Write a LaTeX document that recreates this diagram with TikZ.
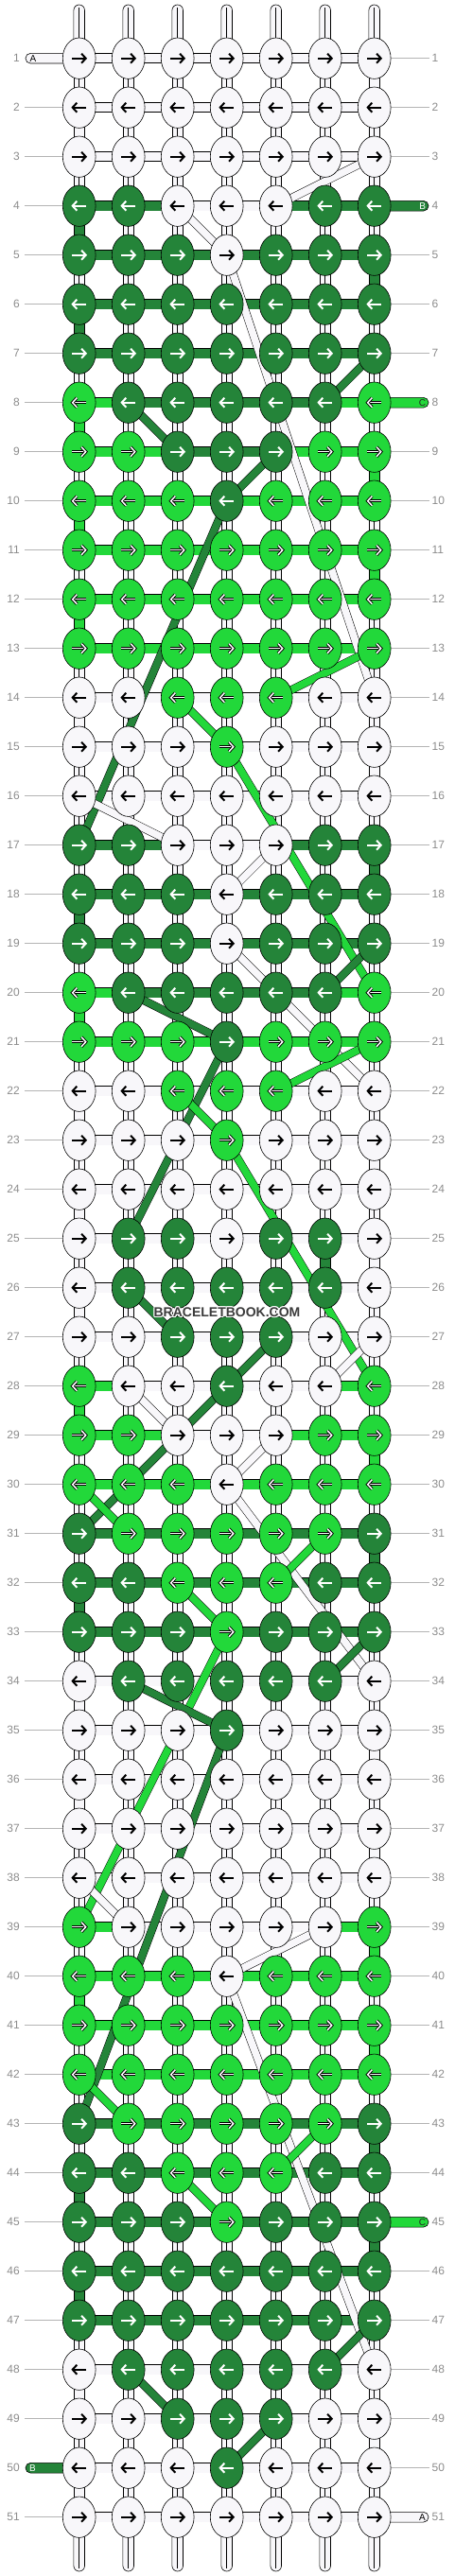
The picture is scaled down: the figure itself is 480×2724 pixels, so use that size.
\documentclass[tikz,border=0pt]{standalone}
\usepackage{fontspec}
\setmainfont{Liberation Sans}
\usetikzlibrary{shapes.geometric,calc}
\definecolor{cW}{HTML}{F8F7FA}
\definecolor{cD}{HTML}{248439}
\definecolor{cL}{HTML}{22D83A}
\definecolor{cGl}{HTML}{B4B4B4}
\definecolor{cGt}{HTML}{8C8C8C}
\definecolor{cMark}{HTML}{3C3C3C}
\colorlet{col-w}{cW}\colorlet{col-d}{cD}\colorlet{col-l}{cL}
\pgfdeclarelayer{vlay}\pgfdeclarelayer{hlay}\pgfdeclarelayer{dlay}\pgfdeclarelayer{toplay}
\pgfsetlayers{vlay,hlay,dlay,main,toplay}
\begin{document}
\begin{tikzpicture}[x=1pt,y=-1pt,
 knot/.style={ellipse,draw=black,line width=.6pt,minimum width=34.8pt,minimum height=43.4pt,inner sep=0pt},
 arrst-w/.style={draw=black,line width=2pt},
 arrst-d/.style={draw=white,line width=2pt},
 arrst-l/.style={draw=white,line width=1.5pt,preaction={draw=black,line width=3.3pt}},
 hseg/.style={draw=black,line width=.6pt,double distance=9.6pt},
 vseg/.style={draw=black,line width=.6pt,double distance=10.4pt},
 dseg/.style={draw=black,line width=.5pt,double distance=7.6pt},
 numl/.style={text=cGt,font=\fontsize{12}{12}\selectfont,inner sep=0pt},
 gline/.style={draw=cGl,line width=.8pt},
 tab/.style={draw=black,line width=.6pt,rounded corners=5.3pt,minimum height=10.7pt,minimum width=57pt,inner sep=0pt},
 tabtxt/.style={font=\fontsize{10}{10}\selectfont,inner sep=0pt},
 wmark/.style={font=\fontsize{14}{14}\selectfont\bfseries,inner sep=0pt}]
\useasboundingbox (0,0) rectangle (480,2724);
% knots
\foreach \r/\ks in {
1/{w,w,w,w,w,w,w},2/{w,w,w,w,w,w,w},3/{w,w,w,w,w,w,w},
4/{d,d,w,w,w,d,d},5/{d,d,d,w,d,d,d},6/{d,d,d,d,d,d,d},7/{d,d,d,d,d,d,d},
8/{l,d,d,d,d,d,l},9/{l,l,d,d,d,l,l},10/{l,l,l,d,l,l,l},11/{l,l,l,l,l,l,l},
12/{l,l,l,l,l,l,l},13/{l,l,l,l,l,l,l},14/{w,w,l,l,l,w,w},15/{w,w,w,l,w,w,w},
16/{w,w,w,w,w,w,w},17/{d,d,w,w,w,d,d},18/{d,d,d,w,d,d,d},19/{d,d,d,w,d,d,d},
20/{l,d,d,d,d,d,l},21/{l,l,l,d,l,l,l},22/{w,w,l,l,l,w,w},23/{w,w,w,l,w,w,w},
24/{w,w,w,w,w,w,w},25/{w,d,d,w,d,d,w},26/{w,d,d,d,d,d,w},27/{w,w,d,d,d,w,w},
28/{l,w,w,d,w,w,l},29/{l,l,w,w,w,l,l},30/{l,l,l,w,l,l,l},31/{d,l,l,l,l,l,d},
32/{d,d,l,l,l,d,d},33/{d,d,d,l,d,d,d},34/{w,d,d,d,d,d,w},35/{w,w,w,d,w,w,w},
36/{w,w,w,w,w,w,w},37/{w,w,w,w,w,w,w},38/{w,w,w,w,w,w,w},39/{l,w,w,w,w,w,l},
40/{l,l,l,w,l,l,l},41/{l,l,l,l,l,l,l},42/{l,l,l,l,l,l,l},43/{d,l,l,l,l,l,d},
44/{d,d,l,l,l,d,d},45/{d,d,d,l,d,d,d},46/{d,d,d,d,d,d,d},47/{d,d,d,d,d,d,d},
48/{w,d,d,d,d,d,w},49/{w,w,d,d,d,w,w},50/{w,w,w,d,w,w,w},51/{w,w,w,w,w,w,w}}{
  \pgfmathsetmacro{\Y}{9.7+52*\r}
  \pgfmathsetmacro{\D}{isodd(\r) ? 1 : -1}
  \foreach \k [count=\c] in \ks {
    \pgfmathsetmacro{\X}{31.7+52*\c}
    \node[knot,fill=col-\k] (n-\r-\c) at (\X,\Y) {};
    \draw[arrst-\k] ({\X-7.5*(\D)},\Y) -- ({\X+6.6*(\D)},\Y);
    \draw[arrst-\k,line join=miter] ({\X+2.4*(\D)},\Y-5) -- ({\X+7*(\D)},\Y) -- ({\X+2.4*(\D)},\Y+5);
  }
}
% row numbers
\foreach \r in {1,...,51}{
  \pgfmathsetmacro{\Y}{9.7+52*\r}
  \node[numl,anchor=east] (nl-\r) at (21,\Y) {\r};
  \node[numl,anchor=west] (nr-\r) at (456.5,\Y) {\r};
}
\begin{pgfonlayer}{vlay}
\foreach \r in {2,...,49,51}{\draw[gline] (nl-\r.east) ++(5,0) -- (n-\r-1.west);}
\foreach \r in {1,2,3,5,6,7}{\draw[gline] (n-\r-7.east) -- ($(nr-\r.west)+(-2.5,0)$);}
\foreach \r in {9,...,44}{\draw[gline] (n-\r-7.east) -- ($(nr-\r.west)+(-2.5,0)$);}
\foreach \r in {46,...,50}{\draw[gline] (n-\r-7.east) -- ($(nr-\r.west)+(-2.5,0)$);}
% vertical strands
\foreach \r in {1,...,50}{
  \pgfmathtruncatemacro{\rn}{\r+1}
  \foreach \c in {1,...,7}{
    \draw[vseg,double=cW] (n-\r-\c.center) -- (n-\rn-\c.center);
    \draw[line width=.5pt] (n-\r-\c.center) -- (n-\rn-\c.center);
  }
}
\foreach \r/\c/\k in {1/7/w,2/1/w,4/1/d,5/7/d,6/1/d,8/1/l,9/7/l,10/1/l,11/7/l,12/1/l,
  14/1/w,15/7/w,17/7/d,18/1/d,20/1/l,22/1/w,23/7/w,24/1/w,25/7/w,25/6/d,26/1/w,
  28/1/l,29/7/l,31/7/d,32/1/d,34/1/w,35/7/w,36/1/w,37/7/w,39/7/l,40/1/l,41/7/l,
  43/7/d,44/1/d,45/7/d,46/1/d,48/1/w,49/7/w,50/1/w}{
  \pgfmathtruncatemacro{\rn}{\r+1}
  \draw[vseg,double=col-\k] (n-\r-\c.center) -- (n-\rn-\c.center);
}
% top and bottom strands
\foreach \c in {1,...,7}{
  \pgfmathsetmacro{\X}{31.7+52*\c}
  \draw[line width=.6pt,fill=cW] (\X-5.8,61.7) -- (\X-5.8,10.8) arc[start angle=180,end angle=360,radius=5.8] -- (\X+5.8,61.7);
  \draw[line width=.5pt] (\X,8.5) -- (n-1-\c.center);
  \draw[line width=.6pt,fill=cW] (\X-5.8,2661.7) -- (\X-5.8,2713.2) arc[start angle=180,end angle=0,radius=5.8] -- (\X+5.8,2661.7);
  \draw[line width=.5pt] (n-51-\c.center) -- (\X,2716.2);
}
% end tabs
\node[tab,fill=cW,anchor=west] (tab-1) at (26.7,61.7) {};
\node[tab,fill=cD,anchor=west] (tab-50) at (26.7,2609.7) {};
\node[tab,fill=cD,anchor=east] (tab-4) at (453.3,217.7) {};
\node[tab,fill=cL,anchor=east] (tab-8) at (453.3,425.7) {};
\node[tab,fill=cL,anchor=east] (tab-45) at (453.3,2349.7) {};
\node[tab,fill=cW,anchor=east] (tab-51) at (453.3,2661.7) {};
\end{pgfonlayer}
\node[tabtxt] (tt-1) at (35,61.7) {A};
\node[tabtxt,text=white] (tt-50) at (34.5,2609.7) {B};
\node[tabtxt,text=white] (tt-4) at (446.7,217.7) {B};
\node[tabtxt,text=black!85] (tt-8) at (446.5,425.7) {C};
\node[tabtxt,text=black!85] (tt-45) at (446.5,2349.7) {C};
\node[tabtxt] (tt-51) at (446.5,2661.7) {A};
% horizontal threads
\begin{pgfonlayer}{hlay}
\foreach \r/\ss in {
1/{w,w,w,w,w,w},2/{w,w,w,w,w,w},3/{w,w,w,w,w,w},4/{d,d,w,w,d,d},
5/{d,d,d,d,d,d},6/{d,d,d,d,d,d},7/{d,d,d,d,d,d},8/{l,d,d,d,d,l},
9/{l,l,d,d,l,l},10/{l,l,l,l,l,l},11/{l,l,l,l,l,l},12/{l,l,l,l,l,l},
13/{l,l,l,l,l,l},14/{w,w,w,w,w,w},15/{w,w,w,w,w,w},16/{w,w,w,w,w,w},
17/{d,d,w,w,d,d},18/{d,d,d,d,d,d},19/{d,d,d,d,d,d},20/{l,d,d,d,d,l},
21/{l,l,l,l,l,l},22/{w,w,w,w,w,w},23/{w,w,w,w,w,w},24/{w,w,w,w,w,w},
25/{w,w,w,w,w,w},26/{w,w,w,w,w,w},27/{w,w,w,w,w,w},28/{l,w,w,w,w,l},
29/{l,l,w,w,l,l},30/{l,l,l,l,l,l},31/{d,d,d,d,d,d},32/{d,d,d,d,d,d},
33/{d,d,d,d,d,d},34/{w,w,w,w,w,w},35/{w,w,w,w,w,w},36/{w,w,w,w,w,w},
37/{w,w,w,w,w,w},38/{w,w,w,w,w,w},39/{l,w,w,w,w,l},40/{l,l,l,l,l,l},
41/{l,l,l,l,l,l},42/{l,l,l,l,l,l},43/{d,d,d,d,d,d},44/{d,d,d,d,d,d},
45/{d,d,d,d,d,d},46/{d,d,d,d,d,d},47/{d,d,d,d,d,d},48/{w,w,w,w,w,w},
49/{w,w,w,w,w,w},50/{w,w,w,w,w,w},51/{w,w,w,w,w,w}}{
  \foreach \s [count=\c] in \ss {
    \pgfmathtruncatemacro{\cn}{\c+1}
    \draw[hseg,double=col-\s] (n-\r-\c.center) -- (n-\r-\cn.center);
  }
}
\end{pgfonlayer}
% diagonal threads
\begin{pgfonlayer}{dlay}
\foreach \ra/\ca/\rb/\cb/\k in {
3/7/4/5/w,4/3/5/4/w,5/4/14/7/w,7/7/8/6/d,8/2/9/3/d,9/5/10/4/d,10/4/17/1/d,
13/7/14/5/l,14/3/15/4/l,15/4/20/7/l,16/1/17/3/w,17/5/18/4/w,19/4/22/7/w,
19/7/20/6/d,20/2/21/4/d,21/7/22/5/l,21/4/25/2/d,22/3/23/4/l,23/4/28/7/l,
26/2/27/3/d,27/5/28/4/d,27/7/28/6/w,28/2/29/3/w,29/5/30/4/w,28/4/31/1/d,
30/1/31/2/l,30/4/34/7/w,31/6/32/5/l,32/3/33/4/l,33/7/34/6/d,33/4/39/1/l,
34/2/35/4/d,35/4/43/1/d,38/1/39/2/w,39/6/40/4/w,40/4/48/7/w,42/1/43/2/l,
43/6/44/5/l,44/3/45/4/l,47/7/48/6/d,48/2/49/3/d,49/5/50/4/d}{
  \draw[dseg,double=col-\k] (n-\ra-\ca.center) -- (n-\rb-\cb.center);
}
\end{pgfonlayer}
% watermark
\begin{pgfonlayer}{toplay}
\foreach \dx/\dy [count=\i] in {1/0,-1/0,0/1,0/-1,.8/.8,-.8/.8,.8/-.8,-.8/-.8}{
  \node[wmark,text=white] (wh-\i) at (240+\dx,1387.5+\dy) {BRACELETBOOK.COM};
}
\node[wmark,text=cMark] (wm) at (240,1387.5) {BRACELETBOOK.COM};
\end{pgfonlayer}
\end{tikzpicture}
\end{document}
